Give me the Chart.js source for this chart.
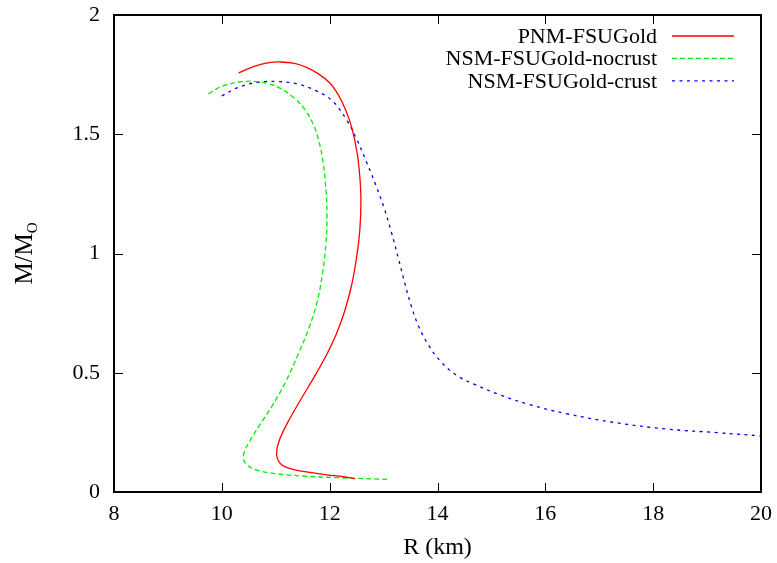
<!DOCTYPE html>
<html><head><meta charset="utf-8">
<script src="https://cdn.jsdelivr.net/npm/chart.js@4/dist/chart.umd.min.js"></script>
<style>html,body{margin:0;padding:0;background:#fff;}#wrap{width:777px;height:563px;position:relative;}</style>
</head><body>
<div id="wrap"><canvas id="c" width="777" height="563"></canvas></div>
<script>
// ---- data (radius R in km, mass M in solar masses) ----
const seriesLabels = ['PNM-FSUGold', 'NSM-FSUGold-nocrust', 'NSM-FSUGold-crust'];
const R_pnm = [10.31,10.60,10.85,11.08,11.35,11.58,11.80,12.00,12.16,12.30,12.42,12.51,12.56,12.58,12.56,12.50,12.41,12.28,12.12,11.93,11.72,11.47,11.23,11.08,11.02,11.03,11.12,11.32,11.60,11.95,12.25,12.47];
const M_pnm = [1.757,1.785,1.799,1.803,1.797,1.779,1.752,1.716,1.665,1.600,1.520,1.420,1.320,1.221,1.100,0.985,0.870,0.760,0.660,0.570,0.485,0.390,0.295,0.225,0.175,0.140,0.112,0.095,0.083,0.072,0.064,0.056];
const R_nocrust = [9.75,10.02,10.30,10.58,10.85,11.10,11.35,11.55,11.70,11.80,11.88,11.93,11.95,11.93,11.87,11.77,11.62,11.42,11.18,10.93,10.70,10.52,10.42,10.40,10.46,10.65,11.00,11.50,12.14,13.09];
const M_nocrust = [1.670,1.703,1.718,1.722,1.713,1.690,1.650,1.600,1.540,1.470,1.380,1.270,1.160,1.040,0.920,0.800,0.690,0.580,0.460,0.360,0.280,0.215,0.170,0.140,0.115,0.092,0.077,0.067,0.060,0.053];
const R_crust = [10.00,10.30,10.67,11.03,11.40,11.77,12.05,12.30,12.50,12.68,12.85,13.01,13.15,13.28,13.40,13.52,13.66,13.85,14.07,14.35,14.70,15.15,15.70,16.40,17.30,18.25,19.18,20.00];
const M_crust = [1.661,1.696,1.718,1.721,1.711,1.680,1.640,1.565,1.480,1.385,1.290,1.191,1.085,0.975,0.870,0.775,0.690,0.610,0.545,0.490,0.450,0.408,0.367,0.328,0.291,0.264,0.249,0.235];
const xTicks = [8,10,12,14,16,18,20];
const yTicks = [0,0.5,1,1.5,2];
const xTitle = 'R (km)';
const yTitleMain = 'M/M';
const yTitleSub = 'O';

function pts(xs, ys){ return xs.map((x,i)=>({x:x, y:ys[i]})); }

const FONT = '"Liberation Serif","Times New Roman",serif';

const framePlugin = {
  id: 'frame',
  afterDatasetsDraw(chart){
    const {ctx, chartArea:a, scales:{x, y}} = chart;
    ctx.save();
    ctx.strokeStyle = '#000'; ctx.lineWidth = 1;
    const TL = 9;
    ctx.beginPath();
    xTicks.forEach(v=>{
      const px = Math.round(x.getPixelForValue(v))+0.5;
      ctx.moveTo(px, a.bottom); ctx.lineTo(px, a.bottom-TL);
      ctx.moveTo(px, a.top); ctx.lineTo(px, a.top+TL);
    });
    yTicks.forEach(v=>{
      const py = Math.round(y.getPixelForValue(v))+0.5;
      ctx.moveTo(a.left, py); ctx.lineTo(a.left+TL, py);
      ctx.moveTo(a.right, py); ctx.lineTo(a.right-TL, py);
    });
    ctx.stroke();
    ctx.lineWidth = 2;
    ctx.strokeRect(a.left, a.top, a.right-a.left, a.bottom-a.top);
    // legend: right-aligned text, line sample to the right
    ctx.font = '22px ' + FONT;
    ctx.fillStyle = '#000';
    ctx.textAlign = 'right'; ctx.textBaseline = 'middle';
    const textRight = a.right - 104, sx0 = a.right - 89, sx1 = a.right - 27;
    chart.data.datasets.forEach((ds,i)=>{
      const ly = a.top + 21 + i*22.4;
      ctx.fillText(ds.label, textRight, ly+1);
      ctx.strokeStyle = ds.borderColor; ctx.lineWidth = ds.borderWidth;
      ctx.setLineDash(ds.borderDash || []);
      ctx.beginPath(); ctx.moveTo(sx0, ly); ctx.lineTo(sx1, ly); ctx.stroke();
    });
    ctx.setLineDash([]);
    // x title
    ctx.textAlign = 'center'; ctx.textBaseline = 'alphabetic';
    ctx.font = '24px ' + FONT;
    ctx.fillText(xTitle, (a.left+a.right)/2, 554);
    // y title, rotated, with subscript
    ctx.translate(32, (a.top+a.bottom)/2);
    ctx.rotate(-Math.PI/2);
    ctx.font = '25px ' + FONT;
    const w1 = ctx.measureText(yTitleMain).width;
    ctx.font = '15px ' + FONT;
    const w2 = ctx.measureText(yTitleSub).width;
    const start = -(w1+w2)/2;
    ctx.textAlign = 'left';
    ctx.font = '25px ' + FONT;
    ctx.fillText(yTitleMain, start, 0);
    ctx.font = '15px ' + FONT;
    ctx.fillText(yTitleSub, start + w1, 5);
    ctx.restore();
  }
};

new Chart(document.getElementById('c').getContext('2d'), {
  type: 'line',
  data: { datasets: [
    { label: seriesLabels[0], data: pts(R_pnm, M_pnm), borderColor: '#ff0000', borderWidth: 1.3, pointRadius: 0, tension: 0.4, fill: false },
    { label: seriesLabels[1], data: pts(R_nocrust, M_nocrust), borderColor: '#00ee00', borderWidth: 1.3, borderDash: [5,3], pointRadius: 0, tension: 0.4, fill: false },
    { label: seriesLabels[2], data: pts(R_crust, M_crust), borderColor: '#0000ff', borderWidth: 1.3, borderDash: [3,4.5], pointRadius: 0, tension: 0.4, fill: false }
  ]},
  options: {
    responsive: false, animation: false, devicePixelRatio: 1,
    layout: { padding: { left: 0, right: 16, top: 15, bottom: 0 } },
    plugins: { legend: { display: false }, tooltip: { enabled: false } },
    elements: { point: { radius: 0, hoverRadius: 0 } },
    scales: {
      x: { type: 'linear', min: 8, max: 20,
        afterBuildTicks: s => { s.ticks = xTicks.map(v => ({ value: v })); },
        afterFit: s => { s.height = 71; s.paddingLeft = 0; s.paddingRight = 0; },
        grid: { display: false, drawTicks: false }, border: { display: false },
        ticks: { padding: 9, color: '#000', maxRotation: 0, font: { family: FONT, size: 22 },
          callback: v => String(v) } },
      y: { type: 'linear', min: 0, max: 2,
        afterBuildTicks: s => { s.ticks = yTicks.map(v => ({ value: v })); },
        afterFit: s => { s.width = 114; s.paddingTop = 0; s.paddingBottom = 0; },
        grid: { display: false, drawTicks: false }, border: { display: false },
        ticks: { padding: 14, color: '#000', font: { family: FONT, size: 22 },
          callback: v => String(v) } }
    }
  },
  plugins: [framePlugin]
});
</script>
</body></html>
